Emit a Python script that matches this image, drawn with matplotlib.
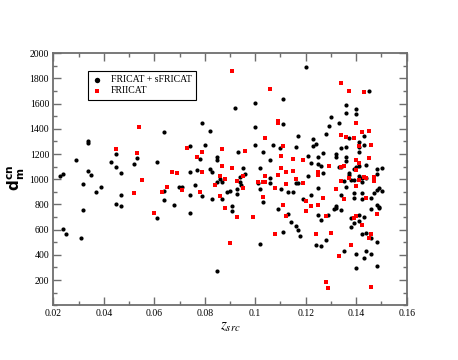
import matplotlib
matplotlib.use('Agg')
import matplotlib.pyplot as plt
from matplotlib.ticker import MultipleLocator, FixedLocator, FuncFormatter
from matplotlib.font_manager import FontProperties

# ---- data: FRICAT + sFRICAT (black circles) ----
fr1_z = [0.0226, 0.0240, 0.0239, 0.0249, 0.0288, 0.0308, 0.0319, 0.0319, 0.0339, 0.0339,
         0.0339, 0.0348, 0.0369, 0.0389, 0.0430, 0.0450, 0.0450, 0.0469, 0.0469, 0.0450,
         0.0469, 0.0520, 0.0530, 0.0609, 0.0640, 0.0640, 0.0640, 0.0609, 0.0679, 0.0699,
         0.0710, 0.0740, 0.0740, 0.0740, 0.0740, 0.0760, 0.0769, 0.0780,
         0.0921, 0.1000, 0.1110, 0.0790, 0.0820, 0.1000, 0.1110, 0.1168, 0.0800, 0.1000,
         0.1069, 0.1100, 0.1160, 0.0930, 0.1030, 0.0850, 0.0850, 0.1060, 0.0820, 0.0830,
         0.0950, 0.0960, 0.0940, 0.1019, 0.1060, 0.0859,
         0.0790, 0.0830, 0.0850, 0.0870, 0.0870, 0.0889, 0.0900, 0.0909, 0.0909, 0.0929,
         0.0929, 0.0940, 0.0942, 0.1020, 0.0850, 0.1011, 0.1020, 0.1031, 0.1060, 0.1090,
         0.1101, 0.1110, 0.1130, 0.1148, 0.1130, 0.1140, 0.1160, 0.1168, 0.1177, 0.1160,
         0.1169,
         0.1200, 0.1450, 0.1361, 0.1361, 0.1401, 0.1401, 0.1300, 0.1331, 0.1291, 0.1280,
         0.1230, 0.1239, 0.1230, 0.1370, 0.1431, 0.1410, 0.1341, 0.1361, 0.1410, 0.1410,
         0.1431, 0.1210, 0.1250, 0.1270, 0.1319, 0.1319, 0.1361, 0.1220, 0.1250, 0.1260,
         0.1361, 0.1440, 0.1331, 0.1341, 0.1390, 0.1401, 0.1410, 0.1481, 0.1501, 0.1270,
         0.1370, 0.1370, 0.1481, 0.1210, 0.1410, 0.1421, 0.1440,
         0.1189, 0.1220, 0.1250, 0.1250, 0.1260, 0.1290, 0.1311, 0.1321, 0.1321, 0.1341,
         0.1341, 0.1361, 0.1350, 0.1380, 0.1390, 0.1390, 0.1390, 0.1421, 0.1421, 0.1421,
         0.1460, 0.1460, 0.1471, 0.1481, 0.1491, 0.1501, 0.1491, 0.1491, 0.1481, 0.1380,
         0.1390, 0.1380, 0.1410, 0.1410, 0.1430, 0.1421, 0.1440, 0.1460, 0.1481, 0.1240,
         0.1260, 0.1280, 0.1350, 0.1401, 0.1430, 0.1440, 0.1460, 0.1401, 0.1481]
fr1_d = [1029, 1040, 606, 569, 1154, 532, 963, 759, 1302, 1286,
         1069, 1032, 900, 937, 1140, 1204, 1095, 1050, 876, 804,
         791, 1125, 1170, 1138, 1373, 905, 834, 696, 799, 939,
         939, 1262, 1061, 876, 736, 953, 1074, 1159,
         1566, 1603, 1635, 1447, 1381, 1413, 1439, 1347, 1275, 1275,
         1270, 1252, 1254, 1220, 1220, 1177, 1154, 1156, 1080, 1061,
         1088, 1045, 1016, 1088, 1011, 1003,
         868, 841, 982, 982, 841, 897, 910, 788, 751, 923,
         881, 982, 955, 489, 275, 971, 921, 818, 968, 762,
         923, 585, 902, 897, 725, 664, 632, 598, 550, 968,
         968,
         1889, 1704, 1593, 1524, 1561, 1516, 1492, 1447, 1421, 1357,
         1320, 1278, 1267, 1326, 1341, 1297, 1246, 1260, 1260, 1220,
         1273, 1183, 1175, 1207, 1199, 1180, 1180, 1132, 1125, 1109,
         1143, 1114, 1098, 1101, 1082, 1095, 1109, 1085, 1090, 1053,
         1050, 1032, 1040, 1029, 1027, 1008, 1008,
         847, 876, 934, 720, 675, 717, 765, 791, 773, 754,
         876, 937, 990, 998, 998, 894, 855, 894, 844, 976,
         849, 762, 894, 913, 934, 908, 781, 773, 799, 696,
         656, 619, 717, 669, 699, 564, 572, 537, 505, 479,
         471, 519, 429, 405, 378, 431, 405, 296, 312]

# ---- data: FRIICAT (red squares) ----
fr2_z = [0.0450, 0.0539, 0.0530, 0.0550, 0.0520, 0.0600, 0.0629, 0.0649, 0.0669, 0.0689,
         0.0710, 0.0730, 0.0769, 0.0780,
         0.0909, 0.1060, 0.1090, 0.1090, 0.1039, 0.1110, 0.0870, 0.0790, 0.0960, 0.1101,
         0.1150, 0.0870, 0.0909, 0.0790, 0.1101, 0.1121, 0.1150, 0.0859, 0.0950, 0.0880,
         0.1039, 0.1090, 0.1160,
         0.0840, 0.0859, 0.0880, 0.0929, 0.0950, 0.0929, 0.0990, 0.0900, 0.1011, 0.1031,
         0.1040, 0.1031, 0.1080, 0.1121, 0.1110, 0.1121, 0.1080,
         0.1341, 0.1370, 0.1430, 0.1401, 0.1421, 0.1451, 0.1341, 0.1361, 0.1390, 0.1410,
         0.1460, 0.1451, 0.1401, 0.1191, 0.1410, 0.1291, 0.1341, 0.1350, 0.1401, 0.1250,
         0.1250, 0.1370, 0.1430, 0.1440, 0.1471,
         0.1191, 0.1200, 0.1220, 0.1200, 0.1250, 0.1270, 0.1321, 0.1350, 0.1341, 0.1410,
         0.1440, 0.1421, 0.1390, 0.1401, 0.1280, 0.1481, 0.1240, 0.1300, 0.1460, 0.1451,
         0.1380, 0.1331, 0.1280, 0.1290, 0.1460, 0.1471, 0.1400]
fr2_d = [1244, 1413, 1209, 998, 894, 736, 897, 937, 1058, 1050,
         918, 1249, 1175, 900,
         1863, 1717, 1463, 1450, 1326, 1267, 1244, 1215, 1222, 1188,
         1162, 1103, 1088, 1061, 1090, 1061, 1069, 1029, 1024, 1005,
         1024, 1035, 1005,
         953, 868, 770, 984, 934, 699, 699, 492, 982, 982,
         982, 857, 934, 963, 799, 712, 566,
         1765, 1701, 1693, 1447, 1379, 1386, 1349, 1339, 1326, 1267,
         1273, 1170, 1151, 1151, 1132, 1109, 1101, 1109, 1074, 1061,
         1037, 1013, 1021, 1013, 1021,
         968, 828, 789, 749, 794, 849, 921, 847, 990, 998,
         849, 638, 696, 712, 712, 728, 569, 577, 564, 537,
         482, 394, 188, 140, 146, 990, 945]

series_labels = ['FRICAT + sFRICAT', 'FRIICAT']
x_ticks = [0.02, 0.04, 0.06, 0.08, 0.1, 0.12, 0.14, 0.16]
y_ticks = [200, 400, 600, 800, 1000, 1200, 1400, 1600, 1800, 2000]

serif = 'Liberation Serif'
axis_grey = '#6e6e6e'

fig = plt.figure(figsize=(4.58, 3.6), dpi=100)
ax = fig.add_axes([0.1164, 0.152, 0.7716, 0.700])

ax.scatter(fr1_z, fr1_d, s=9, marker='o', color='black', linewidths=0,
           label=series_labels[0], zorder=3)
ax.scatter(fr2_z, fr2_d, s=6.5, marker='s', color='red', linewidths=0,
           label=series_labels[1], zorder=3)

ax.set_xlim(0.02, 0.16)
ax.set_ylim(0, 2000)
ax.xaxis.set_major_locator(FixedLocator(x_ticks))
ax.xaxis.set_minor_locator(MultipleLocator(0.01))
ax.yaxis.set_major_locator(FixedLocator(y_ticks))
ax.yaxis.set_minor_locator(MultipleLocator(100))
ax.xaxis.set_major_formatter(FuncFormatter(lambda v, p: '%g' % round(v, 4)))
ax.yaxis.set_major_formatter(FuncFormatter(lambda v, p: '%d' % v))

for sp in ax.spines.values():
    sp.set_color(axis_grey)
    sp.set_linewidth(1.3)

ax.tick_params(which='both', direction='in', top=True, right=True,
               color=axis_grey, width=1.0)
ax.tick_params(which='major', length=6, labelsize=7, pad=3)
ax.tick_params(which='minor', length=3)
for lab in ax.get_xticklabels() + ax.get_yticklabels():
    lab.set_fontfamily(serif)

leg = ax.legend(loc='upper left', bbox_to_anchor=(0.098, 0.93), borderaxespad=0,
                frameon=True, fancybox=False, framealpha=1, edgecolor='black',
                prop=FontProperties(family=serif, size=7), handlelength=1.0,
                handletextpad=0.9, labelspacing=0.2, borderpad=0.45,
                markerscale=1.3)
leg.get_frame().set_linewidth(0.8)

fig.text(230 / 458, 1 - 326 / 360, r'$z_{src}$', fontsize=11, ha='center', va='center',
         math_fontfamily='stix')
fig.text(16 / 458, 1 - 178 / 360, r'$\mathbf{d}_{\mathbf{m}}^{\mathbf{cn}}$', fontsize=11,
         rotation=90, ha='center', va='center', math_fontfamily='dejavusans')

fig.savefig('out.png', dpi=100)
